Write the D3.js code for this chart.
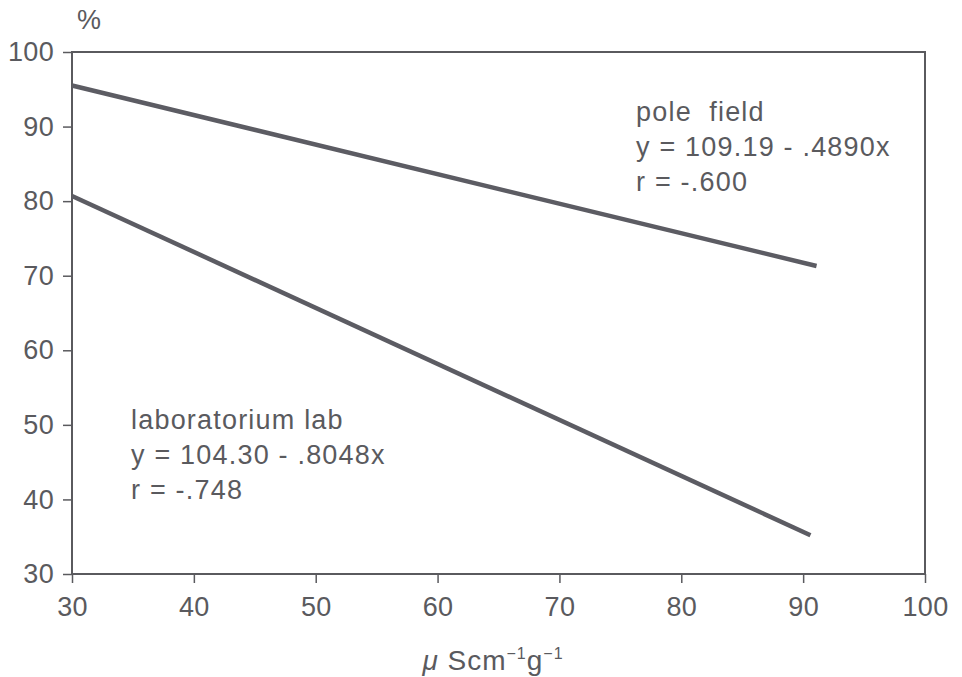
<!DOCTYPE html>
<html>
<head>
<meta charset="utf-8">
<script src="https://cdn.jsdelivr.net/npm/d3@7"></script>
<style>
  body { margin: 0; background: #fff; }
  svg text { font-family: "Liberation Sans", Arial, sans-serif; fill: #5a5a5e; }
</style>
</head>
<body>
<div id="chart"></div>
<script>
// данные
const xTicks = [30, 40, 50, 60, 70, 80, 90, 100]
const yTicks = [30, 40, 50, 60, 70, 80, 90, 100]
const poleX = [30, 91.1]
const poleY = [95.5, 71.3]
const labX = [30, 90.6]
const labY = [80.7, 35.2]
const poleLabel = ['pole  field', 'y = 109.19 - .4890x', 'r = -.600']
const labLabel = ['laboratorium lab', 'y = 104.30 - .8048x', 'r = -.748']

const W = 962, H = 677
// края области графика (top - занято window, поэтому plot*)
const plotLeft = 72, plotRight = 925, plotTop = 52, plotBottom = 574
const ink = '#5a5a5e'

let svg = d3.select('#chart').append('svg')
  .attr('width', W)
  .attr('height', H)

let x = d3.scaleLinear().domain([30, 100]).range([plotLeft, plotRight])
let y = d3.scaleLinear().domain([30, 100]).range([plotBottom, plotTop])

// рамка
svg.append('rect')
  .attr('x', plotLeft).attr('y', plotTop)
  .attr('width', plotRight - plotLeft).attr('height', plotBottom - plotTop)
  .attr('fill', 'none')
  .attr('stroke', ink)
  .attr('stroke-width', 2)

// оси
let xAxis = svg.append('g')
  .attr('transform', `translate(0,${plotBottom})`)
  .call(d3.axisBottom(x).tickValues(xTicks).tickSize(9).tickPadding(14))
let yAxis = svg.append('g')
  .attr('transform', `translate(${plotLeft},0)`)
  .call(d3.axisLeft(y).tickValues(yTicks).tickSize(9).tickPadding(10))

xAxis.select('.domain').remove()
yAxis.select('.domain').remove()
svg.selectAll('.tick line').attr('stroke', ink).attr('stroke-width', 1.5)
svg.selectAll('.tick text')
  .attr('fill', ink)
  .style('font-size', '27px')
  .style('letter-spacing', '0.3px')
  .style('font-family', '"Liberation Sans", Arial, sans-serif')
yAxis.selectAll('.tick text').attr('x', -18)

// линии регрессии
let line = d3.line()
  .x(d => x(d[0]))
  .y(d => y(d[1]))

function drawSeries(xs, ys){
  svg.append('path')
    .datum(xs.map((v, i) => [v, ys[i]]))
    .attr('d', line)
    .attr('fill', 'none')
    .attr('stroke', '#5c5c63')
    .attr('stroke-width', 4.5)
}
drawSeries(poleX, poleY)
drawSeries(labX, labY)

// подписи
function drawLabel(lines, px, py){
  let t = svg.append('text')
    .attr('x', px).attr('y', py)
    .style('font-size', '27px')
    .style('letter-spacing', '1.2px')
    .style('white-space', 'pre')
  lines.forEach((s, i) => {
    t.append('tspan')
      .attr('x', px)
      .attr('dy', i == 0 ? 0 : 35)
      .text(s)
  })
}
drawLabel(poleLabel, 636, 121)
drawLabel(labLabel, 131, 429)

// заголовки осей
svg.append('text')
  .attr('x', 89).attr('y', 29)
  .attr('text-anchor', 'middle')
  .style('font-size', '27px')
  .text('%')

let title = svg.append('text')
  .attr('x', 493).attr('y', 670)
  .attr('text-anchor', 'middle')
  .style('font-size', '28px')
  .style('letter-spacing', '1px')
title.append('tspan').style('font-style', 'italic').text('μ')
title.append('tspan').text(' Scm')
title.append('tspan').attr('dy', -11).style('font-size', '16px').text('−1')
title.append('tspan').attr('dy', 11).text('g')
title.append('tspan').attr('dy', -11).style('font-size', '16px').text('−1')
</script>
</body>
</html>
